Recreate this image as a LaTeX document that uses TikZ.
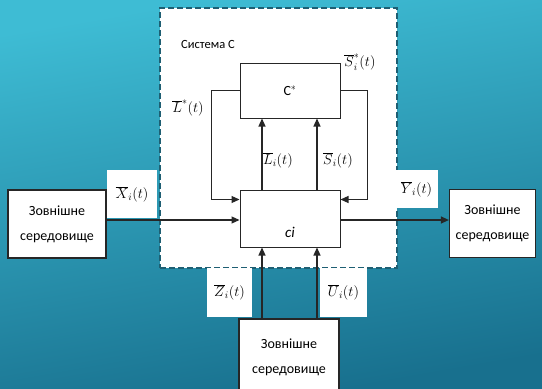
\documentclass[tikz,border=0pt]{standalone}
\usepackage{fontspec}
\setmainfont{Carlito}
\usetikzlibrary{arrows.meta,positioning,calc}
\definecolor{bgtop}{RGB}{62,188,212}
\definecolor{bgbot}{RGB}{24,112,142}
\definecolor{framecol}{RGB}{30,95,115}
\tikzset{
  envbox/.style={draw=black!85,line width=1.2pt,fill=white,align=center,
    minimum height=68,inner sep=2pt,font=\fontsize{14}{25}\selectfont},
  blockbox/.style={draw=black!85,line width=1pt,fill=white,minimum width=100,
    inner sep=0pt,font=\fontsize{14}{16}\selectfont},
  lbl/.style={fill=white,inner sep=0pt,font=\fontsize{14}{16}\selectfont},
  sysframe/.style={draw=framecol,fill=white,line width=1.2pt,
    dash pattern=on 6pt off 3pt},
  flow/.style={-{Triangle[length=8pt,width=7pt]},draw=black!85,line width=1.2pt},
}
\begin{document}
\begin{tikzpicture}[x=1pt,y=-1pt]
  \useasboundingbox (0,0) rectangle (542,389);
  \shade[top color=bgtop,bottom color=bgbot,shading angle=10] (0,0) rectangle (542,389);
  % system C
  \node[sysframe,minimum width=237,minimum height=260] (sys) at (278.5,138) {};
  \node[font=\fontsize{12.5}{14}\selectfont] (systitle) at (208,44) {Система С};
  \node[blockbox,minimum height=55] (cstar) at (290,90.5) {C$^{*}$};
  \node[blockbox,minimum height=57] (ci) at (290,218.5) {};
  \node[font=\fontsize{15}{16}\selectfont\itshape] (citext) at (290,232) {ci};
  % environment
  \node[envbox,minimum width=98] (envL) at (57,224) {Зовнішне\\середовище};
  \node[envbox,minimum width=86] (envR) at (492.5,223.5) {Зовнішне\\середовище};
  \node[envbox,minimum width=100,minimum height=76] (envB) at (289,357) {Зовнішне\\середовище};
  % labels
  \node[lbl,minimum width=50,minimum height=48] (lx) at (132,194) {$\overline{X}_i(t)$};
  \node[lbl,minimum width=43,minimum height=38] (ly) at (416.5,189) {$\overline{Y}_i(t)$};
  \node[lbl,minimum width=45,minimum height=49] (lz) at (229.5,292.5) {$\overline{Z}_i(t)$};
  \node[lbl,minimum width=47,minimum height=49] (lu) at (343.5,292.5) {$\overline{U}_i(t)$};
  \node[lbl] (lstar) at (188,108) {$\overline{L}^{*}(t)$};
  \node[lbl] (sstar) at (360,62) {$\overline{S}^{*}_i(t)$};
  \node[lbl] (li) at (278,160) {$\overline{L}_i(t)$};
  \node[lbl] (si) at (338,160) {$\overline{S}_i(t)$};
  % connectors
  \draw[flow] (envL.east |- 0,220) -- (ci.west |- 0,220);
  \draw[flow] (ci.east |- 0,220) -- (envR.west |- 0,220);
  \draw[flow] (cstar.west) -- ++(-28,0) |- ([yshift=-10pt]ci.north west);
  \draw[flow] (cstar.east) -- ++(27,0) |- ([yshift=-10pt]ci.north east);
  \draw[flow] ([xshift=-28pt]ci.north) -- ([xshift=-28pt]cstar.south);
  \draw[flow] ([xshift=27pt]ci.north) -- ([xshift=27pt]cstar.south);
  \draw[flow] ([xshift=-28pt]ci.south |- envB.north) -- ([xshift=-28pt]ci.south);
  \draw[flow] ([xshift=27pt]ci.south |- envB.north) -- ([xshift=27pt]ci.south);
\end{tikzpicture}
\end{document}
